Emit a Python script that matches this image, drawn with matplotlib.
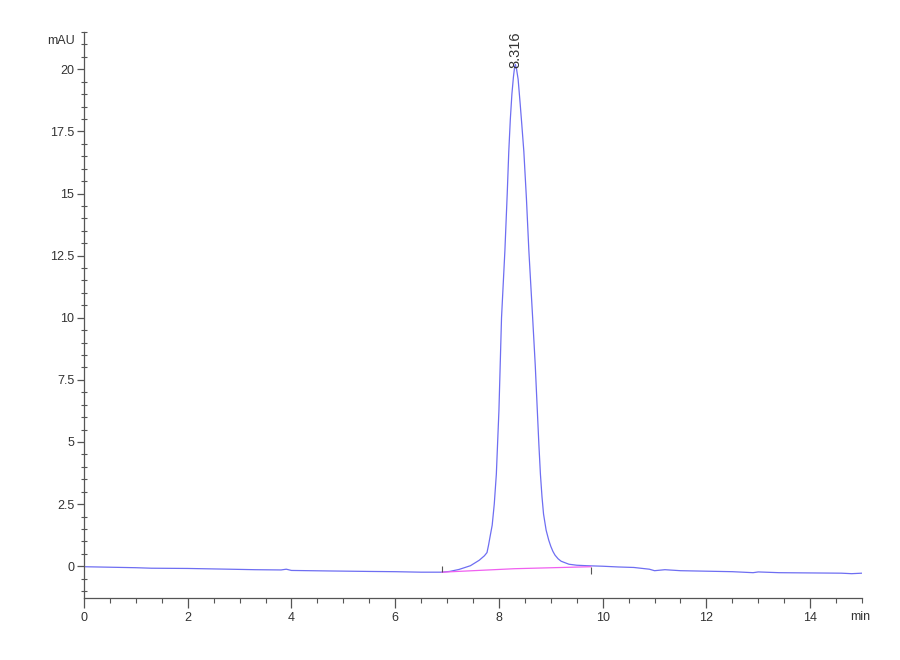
import matplotlib
matplotlib.use('Agg')
import matplotlib.pyplot as plt
from matplotlib.ticker import MultipleLocator

plt.rcParams['font.family'] = ['Liberation Sans', 'DejaVu Sans']

# chromatogram trace (min, mAU)
time_min = [0.0, 0.5, 1.0, 1.3, 2.0, 2.8, 3.3, 3.8, 3.9, 4.0, 4.7, 5.5, 6.0, 6.5,
            6.9, 7.05, 7.23, 7.45, 7.62, 7.72, 7.77, 7.80, 7.83, 7.87, 7.91, 7.95,
            8.0, 8.05, 8.115, 8.16, 8.19, 8.22, 8.25, 8.28, 8.30, 8.316, 8.34,
            8.37, 8.41, 8.44, 8.48, 8.53, 8.577, 8.65, 8.70, 8.74, 8.77, 8.80,
            8.83, 8.86, 8.91, 8.96, 9.0, 9.04, 9.08, 9.14, 9.2, 9.35, 9.5, 9.7,
            10.0, 10.3, 10.6, 10.9, 11.0, 11.2, 11.5, 12.0, 12.5, 12.9, 13.0,
            13.4, 14.0, 14.6, 14.8, 15.0]
signal_mau = [-0.02, -0.04, -0.06, -0.08, -0.09, -0.12, -0.14, -0.15, -0.12, -0.17,
              -0.19, -0.21, -0.22, -0.24,
              -0.24, -0.21, -0.13, 0.02, 0.24, 0.42, 0.55, 0.85, 1.2, 1.65, 2.5, 3.7,
              6.27, 10.0, 12.7, 15.0, 16.7, 18.0, 19.0, 19.7, 20.05, 20.2, 20.0,
              19.6, 18.6, 17.8, 16.7, 14.8, 12.7, 10.0, 8.1, 6.27, 4.9, 3.7,
              2.8, 2.1, 1.45, 1.05, 0.8, 0.6, 0.45, 0.3, 0.2, 0.08, 0.04, 0.02,
              0.0, -0.03, -0.05, -0.12, -0.18, -0.14, -0.18, -0.2, -0.22, -0.26, -0.23,
              -0.26, -0.27, -0.28, -0.3, -0.28]

# integration baseline
base_time = [6.9, 8.3, 9.77]
base_mau = [-0.24, -0.1, -0.02]

# integration start / end markers
marker_time = [6.9, 9.77]
marker_lo = [-0.24, -0.3]
marker_hi = [0.0, -0.02]

peak_rt = 8.316
peak_height = 20.2

fig = plt.figure(figsize=(9, 6.6), dpi=100)
ax = fig.add_axes([0.0933, 0.0939, 0.8645, 0.8576])

ax.plot(time_min, signal_mau, color='#6e6ef2', linewidth=0.9)
ax.plot(base_time, base_mau, color='#f060f0', linewidth=0.9)
ax.vlines(marker_time, marker_lo, marker_hi, color='#555555', linewidth=0.8)

ax.text(peak_rt, peak_height - 0.15, f'{peak_rt:.3f}', rotation=90, ha='center',
        va='bottom', fontsize=10.5, color='#333333')

ax.set_xlim(0, 15)
ax.set_ylim(-1.28, 21.5)

for side in ['top', 'right']:
    ax.spines[side].set_visible(False)
for side in ['left', 'bottom']:
    ax.spines[side].set_color('#555555')
    ax.spines[side].set_linewidth(0.9)

ax.xaxis.set_major_locator(MultipleLocator(2))
ax.xaxis.set_minor_locator(MultipleLocator(0.5))
ax.yaxis.set_major_locator(MultipleLocator(2.5))
ax.yaxis.set_minor_locator(MultipleLocator(0.5))
ax.yaxis.set_major_formatter(plt.FuncFormatter(lambda v, p: f'{v:g}'))

ax.tick_params(axis='x', which='major', length=7, width=0.9, color='#555555',
               labelsize=9, labelcolor='#333333', pad=3)
ax.tick_params(axis='x', which='minor', length=3.5, width=0.8, color='#555555')
ax.tick_params(axis='y', which='major', length=5, width=0.9, color='#555555',
               labelsize=9, labelcolor='#333333', pad=2)
ax.tick_params(axis='y', which='minor', direction='inout', length=4, width=0.8,
               color='#555555')

ax.text(-0.012, 0.985, 'mAU', transform=ax.transAxes, ha='right', va='center',
        fontsize=9, color='#333333')
ax.text(0.998, -0.034, 'min', transform=ax.transAxes, ha='center', va='center',
        fontsize=9, color='#333333')

fig.savefig('out.png', dpi=100)
plt.close(fig)
